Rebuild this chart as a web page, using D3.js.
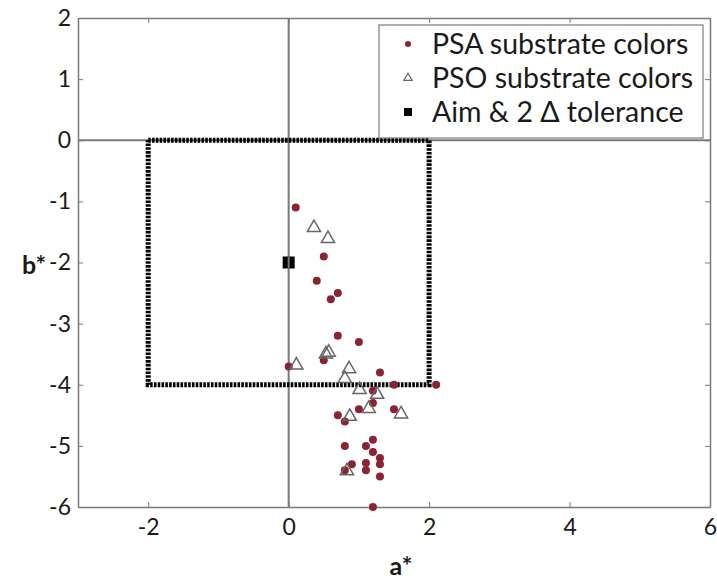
<!DOCTYPE html>
<html>
<head>
<meta charset="utf-8">
<script src="https://cdn.jsdelivr.net/npm/d3@7"></script>
<style>
  body { margin: 0; background: #fff; }
  svg text { font-family: Lato, "Noto Sans", sans-serif; fill: #1a1a1a; }
</style>
</head>
<body>
<div id="chart"></div>
<script>
// Dados
const psaA = [0.1, 0.5, 0.4, 0.7, 0.6, 0.7, 1.0, 0.5, 0.0, 1.3, 2.1, 1.5, 1.2, 1.2, 1.0, 1.5, 0.7, 0.8, 1.2, 0.8, 1.1, 1.2, 1.3, 1.3, 0.9, 1.1, 1.1, 0.8, 1.3, 1.2];
const psaB = [-1.1, -1.9, -2.3, -2.5, -2.6, -3.2, -3.3, -3.6, -3.7, -3.8, -4.0, -4.0, -4.1, -4.3, -4.4, -4.4, -4.5, -4.6, -4.9, -5.0, -5.0, -5.1, -5.2, -5.3, -5.3, -5.28, -5.4, -5.4, -5.5, -6.0];
const psoA = [0.36, 0.56, 0.53, 0.57, 0.11, 0.86, 0.8, 1.01, 1.26, 1.14, 1.6, 0.87, 0.83];
const psoB = [-1.43, -1.61, -3.5, -3.47, -3.68, -3.74, -3.9, -4.08, -4.16, -4.39, -4.48, -4.52, -5.41];
const aimA = [0];
const aimB = [-2];
const tolA = [-2, 2, 2, -2, -2];
const tolB = [0, 0, -4, -4, 0];
const xTicks = [-2, 0, 2, 4, 6];
const yTicks = [-6, -5, -4, -3, -2, -1, 0, 1, 2];
const legendLabels = ['PSA substrate colors', 'PSO substrate colors', 'Aim & 2 \u0394 tolerance'];

const W = 717, H = 580;
const margin = { top: 18, right: 7, bottom: 73, left: 78 };
const width = W - margin.left - margin.right;
const height = H - margin.top - margin.bottom;

const svg = d3.select('#chart').append('svg')
  .attr('width', W)
  .attr('height', H);

const g = svg.append('g')
  .attr('transform', `translate(${margin.left},${margin.top})`);

// Escalas
const x = d3.scaleLinear().domain([-3, 6]).range([0, width]);
const y = d3.scaleLinear().domain([-6, 2]).range([height, 0]);

const axisColor = '#7a7a7a';
const fmt = d => String(d);  // hífen simples, como na figura

// Linhas de zero
g.append('line')
  .attr('x1', x(0)).attr('x2', x(0))
  .attr('y1', 0).attr('y2', height)
  .attr('stroke', axisColor).attr('stroke-width', 2);
g.append('line')
  .attr('x1', 0).attr('x2', width)
  .attr('y1', y(0)).attr('y2', y(0))
  .attr('stroke', axisColor).attr('stroke-width', 2);

// Eixos (ticks para dentro, estilo caixa)
function styleAxis(sel) {
  sel.select('.domain').attr('stroke', axisColor).attr('stroke-width', 1.5);
  sel.selectAll('.tick line').attr('stroke', axisColor).attr('stroke-width', 1);
}

g.append('g')
  .attr('transform', `translate(0,${height})`)
  .call(d3.axisBottom(x).tickValues(xTicks).tickSize(-5).tickPadding(12).tickSizeOuter(0).tickFormat(fmt))
  .call(styleAxis)
  .selectAll('text').style('font-size', '23px').attr('fill', '#1a1a1a');

g.append('g')
  .call(d3.axisLeft(y).tickValues(yTicks).tickSize(-5).tickPadding(7).tickSizeOuter(0).tickFormat(fmt))
  .call(styleAxis)
  .selectAll('text').style('font-size', '23px').attr('fill', '#1a1a1a');

g.append('g')
  .call(d3.axisTop(x).tickValues(xTicks).tickSize(-5).tickSizeOuter(0).tickFormat(''))
  .call(styleAxis);

g.append('g')
  .attr('transform', `translate(${width},0)`)
  .call(d3.axisRight(y).tickValues(yTicks).tickSize(-5).tickSizeOuter(0).tickFormat(''))
  .call(styleAxis);

// Títulos dos eixos
svg.append('text')
  .attr('x', 34).attr('y', 274)
  .attr('text-anchor', 'middle')
  .style('font-size', '25px').style('font-weight', 'bold')
  .text('b*');

svg.append('text')
  .attr('x', 401).attr('y', 575)
  .attr('text-anchor', 'middle')
  .style('font-size', '25px').style('font-weight', 'bold')
  .text('a*');

// Caixa de tolerância (pontilhada)
const tol = tolA.map((a, i) => [a, tolB[i]]);
g.append('path')
  .attr('d', d3.line().x(d => x(d[0])).y(d => y(d[1]))(tol))
  .attr('fill', 'none')
  .attr('stroke', '#000')
  .attr('stroke-width', 5)
  .attr('stroke-dasharray', '2.6,1.2');

// Alvo
g.selectAll('.aim')
  .data(aimA.map((a, i) => [a, aimB[i]]))
  .enter().append('rect')
  .attr('class', 'aim')
  .attr('x', d => x(d[0]) - 6).attr('y', d => y(d[1]) - 6)
  .attr('width', 12).attr('height', 12)
  .attr('fill', '#000');

g.selectAll('.aim-line')
  .data(aimA)
  .enter().append('line')
  .attr('x1', d => x(d)).attr('x2', d => x(d))
  .attr('y1', d => y(aimB[0]) - 6).attr('y2', d => y(aimB[0]) + 6)
  .attr('stroke', axisColor).attr('stroke-width', 2);

// Pontos PSA
const dotColor = '#8a2433';
g.selectAll('.psa')
  .data(psaA.map((a, i) => [a, psaB[i]]))
  .enter().append('circle')
  .attr('class', 'psa')
  .attr('cx', d => x(d[0])).attr('cy', d => y(d[1]))
  .attr('r', 4)
  .attr('fill', dotColor);

// Pontos PSO (triângulos)
const tri = d3.symbol().type(d3.symbolTriangle).size(75);
g.selectAll('.pso')
  .data(psoA.map((a, i) => [a, psoB[i]]))
  .enter().append('path')
  .attr('class', 'pso')
  .attr('transform', d => `translate(${x(d[0])},${y(d[1])})`)
  .attr('d', tri)
  .attr('fill', 'none')
  .attr('stroke', '#666')
  .attr('stroke-width', 1.5);

// Legenda
const legend = svg.append('g').attr('transform', 'translate(379,25)');
legend.append('rect')
  .attr('width', 324).attr('height', 113)
  .attr('fill', '#fff')
  .attr('stroke', axisColor).attr('stroke-width', 1.2);

const rowY = [19, 53, 87];
legend.append('circle').attr('cx', 29).attr('cy', rowY[0]).attr('r', 3).attr('fill', dotColor);
legend.append('path')
  .attr('transform', `translate(29,${rowY[1]})`)
  .attr('d', d3.symbol().type(d3.symbolTriangle).size(30))
  .attr('fill', 'none').attr('stroke', '#666').attr('stroke-width', 1.2);
legend.append('rect').attr('x', 25).attr('y', rowY[2] - 4).attr('width', 8).attr('height', 8).attr('fill', '#000');

legend.selectAll('.leg-text')
  .data(legendLabels)
  .enter().append('text')
  .attr('class', 'leg-text')
  .attr('x', 53)
  .attr('y', (d, i) => rowY[i])
  .attr('dy', '0.36em')
  .style('font-size', '28.5px')
  .text(d => d);
</script>
</body>
</html>
